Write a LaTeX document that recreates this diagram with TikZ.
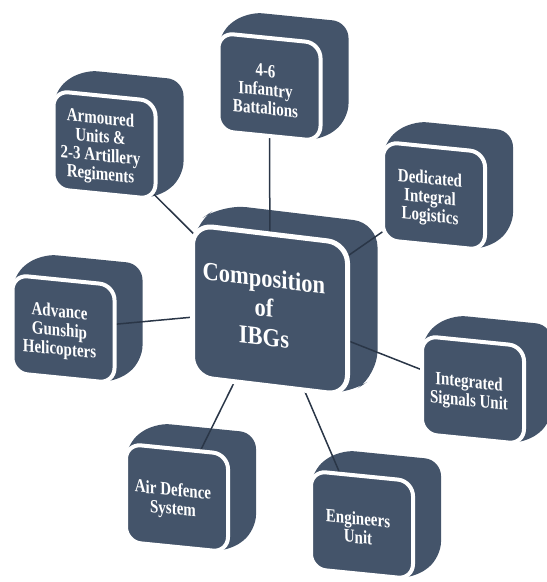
\documentclass[tikz,border=0pt]{standalone}
\usepackage{fontspec}
\setmainfont{Liberation Serif}
\definecolor{boxc}{HTML}{44546A}
\definecolor{linec}{HTML}{2A3647}
\tikzset{
  backfill/.style={fill=boxc, rounded corners=16pt},
  frontfill/.style={fill=boxc, draw=white, line width=4pt, rounded corners=15pt},
  conn/.style={draw=linec, line width=1.5pt},
  smalltext/.style={text=white, align=center, inner sep=0pt, yscale=1.25,
    font=\bfseries\fontsize{15}{15}\selectfont},
  bigtext/.style={text=white, align=center, inner sep=0pt, yscale=1.15,
    font=\bfseries\fontsize{22.5}{25.5}\selectfont},
}
\newcommand\outerback[3]{%
  \begin{scope}[shift={(#1,#2)}, yslant=-0.1]
    \path[backfill] (-51,49) -- (-51,-49) -- (-23,-73) -- (79,-73) -- (79,25) -- (51,49) -- cycle;
    \coordinate (#3) at (0,0);
  \end{scope}}
\newcommand\outerfront[4]{%
  \begin{scope}[shift={(#1,#2)}, yslant=-0.1, transform shape]
    \path[frontfill] (-51,-49) rectangle (51,49);
    \node[smalltext] (#3-t) at (-4,3) {#4};
  \end{scope}}
\begin{document}
\begin{tikzpicture}[x=1pt, y=-1pt]
  \clip (0,0) rectangle (547,582);
  % backs
  \begin{scope}[shift={(270,310)}, yslant=-0.12]
    \path[backfill, rounded corners=24pt] (-77.5,76) -- (-77.5,-76) -- (-47.5,-100) -- (107.5,-100) -- (107.5,52) -- (77.5,76) -- cycle;
    \coordinate (cen) at (0,0);
  \end{scope}
  \outerback{269.5}{87}{inf}
  \outerback{104.5}{145}{arm}
  \outerback{434}{196}{ded}
  \outerback{63.5}{329}{gun}
  \outerback{473}{390}{sig}
  \outerback{177}{498}{air}
  \outerback{362}{525}{eng}
  % connectors
  \draw[conn] (cen) -- (inf);
  \draw[conn] (cen) -- (arm);
  \draw[conn] (cen) -- (ded);
  \draw[conn] (cen) -- (gun);
  \draw[conn] (cen) -- (sig);
  \draw[conn] (cen) -- (air);
  \draw[conn] (cen) -- (eng);
  % fronts
  \begin{scope}[shift={(270,310)}, yslant=-0.12, transform shape]
    \path[frontfill, rounded corners=20pt, line width=5pt] (-77.5,-76) rectangle (77.5,76);
    \node[bigtext] (cen-t) at (-6,-2) {Composition\\of\\IBGs};
  \end{scope}
  \outerfront{269.5}{87}{inf}{4-6\\Infantry\\Battalions}
  \outerfront{104.5}{145}{arm}{Armoured\\Units \&\\2-3 Artillery\\Regiments}
  \outerfront{434}{196}{ded}{Dedicated\\Integral\\Logistics}
  \outerfront{63.5}{329}{gun}{Advance\\Gunship\\Helicopters}
  \outerfront{473}{390}{sig}{Integrated\\Signals Unit}
  \outerfront{177}{498}{air}{Air Defence\\System}
  \outerfront{362}{525}{eng}{Engineers\\Unit}
\end{tikzpicture}
\end{document}
